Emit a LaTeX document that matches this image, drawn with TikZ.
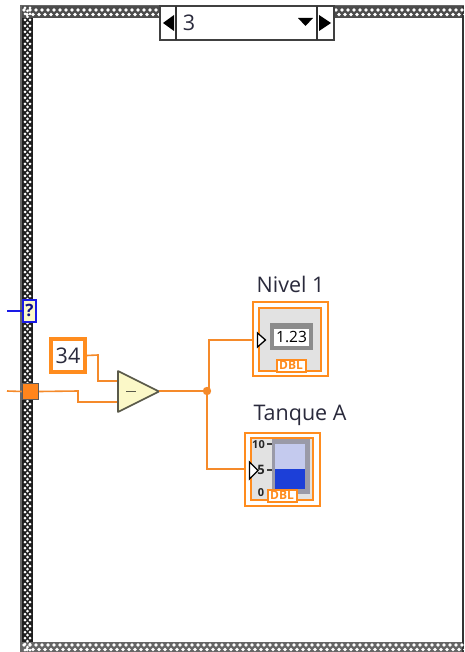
\documentclass[tikz,border=0pt]{standalone}
\usepackage{fontspec}
\setmainfont{Open Sans}
\usetikzlibrary{calc}
\definecolor{lvor}{HTML}{FF8C1E}
\definecolor{lvorw}{HTML}{F58A2A}
\definecolor{lvblue}{HTML}{1A1AE6}
\definecolor{panel}{HTML}{E2E2E2}
\definecolor{cream}{HTML}{FBF8C8}
\definecolor{edge}{HTML}{5A5A4A}
\definecolor{tankd}{HTML}{9A9AA8}
\definecolor{tankl}{HTML}{C4CAEE}
\definecolor{tankb}{HTML}{1C3FD8}
\definecolor{txt}{HTML}{2A2A3C}
\tikzset{
  x=1pt,y=-1pt,
  wire/.style={draw=lvorw,line width=1.6pt},
  bluewire/.style={draw=lvblue,line width=1.5pt},
  label/.style={inner sep=0pt,font=\fontsize{21.5}{21.5}\selectfont,text=txt},
  framedot/.style={fill=white,draw=none},
  indbox/.style={draw=lvor,line width=2pt,fill=white,inner sep=0pt,outer sep=0pt,anchor=north west},
  dbltab/.style={draw=lvor,line width=2pt,fill=white,inner sep=0pt,outer sep=0pt,anchor=north west,minimum width=29pt,minimum height=12pt,font=\bfseries\fontsize{12}{12}\selectfont,text=lvor},
  arrowtip/.style={draw=black,fill=white,line width=1.3pt},
  selbox/.style={draw=black!75,line width=1.2pt,fill=white,outer sep=0pt},
  darktri/.style={fill=black,draw=none}
}
\begin{document}
\begin{tikzpicture}
\useasboundingbox (0,0) rectangle (464,652);
\fill[white] (0,0) rectangle (464,652);
% structure frame
\fill[black!88] (21,6) rectangle (33,652);
\fill[black!70] (21,6) rectangle (464,18);
\fill[black!60] (21,642) rectangle (464,652);
\fill[black!80] (462,6) rectangle (464,652);
\foreach \y in {8,14,...,650}{
  \fill[framedot] (25,\y) circle (1.5);
  \fill[framedot] (30,\y) circle (1.5);
  \fill[framedot] (27.5,\y+3) circle (1.5);
}
\foreach \x in {24,30,...,462}{
  \fill[framedot] (\x,10) circle (1.9);
  \fill[framedot] (\x+3,14.5) circle (1.9);
  \fill[framedot] (\x,645) circle (1.9);
  \fill[framedot] (\x+3,649.5) circle (1.9);
}
\draw[black!60,line width=1.2pt] (21,5.5) -- (464,5.5);
\draw[black!60,line width=1.2pt] (21,5) -- (21,652);
\fill[white] (33,18) rectangle (462,642);
% selector
\node[selbox,minimum width=174pt,minimum height=34pt,inner sep=0pt,anchor=north west] (selector) at (160,6) {};
\draw[black!80,line width=1.2pt] (176,6) -- (176,40);
\draw[black!80,line width=1.2pt] (317,6) -- (317,40);
\fill[darktri] (163,23) -- (174,15) -- (174,31) -- cycle;
\fill[darktri] (331,23) -- (319,15) -- (319,31) -- cycle;
\fill[darktri] (298,18) -- (313,18) -- (305.5,26) -- cycle;
\node[label,anchor=center] (caseval) at (189,23) {3};
% selector terminal
\draw[draw=lvblue,line width=2pt,fill=cream] (23,299.5) rectangle (36,321.5);
\node[inner sep=0pt,font=\bfseries\fontsize{17}{17}\selectfont,text=lvblue!60!black] (sel) at (29.5,310.5) {?};
\coordinate (selin) at (22,311);
\coordinate (selfree) at (7,311);
\draw[bluewire] (selfree) -- (selin);
% tunnel
\node[draw=black!65,line width=1.3pt,fill=lvor!95!red,minimum width=16pt,minimum height=16pt,inner sep=0pt] (tunnel) at (30.5,391.5) {};
\coordinate (tunfree) at (7,391);
\draw[wire] (tunfree) -- (tunnel.west);
% constant
\node[draw=lvor,line width=4pt,fill=white,minimum width=34pt,minimum height=33pt,inner sep=0pt,font=\fontsize{21.5}{21.5}\selectfont,text=txt] (const) at (68,355.5) {34};
% subtract
\coordinate (subA) at (118,381);
\coordinate (subB) at (118,402);
\coordinate (subO) at (159,391);
\draw[wire] (const.east) -- (98,355) -- (98,381) -- (subA);
\draw[wire] (tunnel.east) -- (78,391) -- (78,402) -- (subB);
\path[draw=edge,line width=1.6pt,fill=cream,line join=round] (118,371) -- (159,391.5) -- (118,412) -- cycle;
\node[inner sep=0pt,minimum width=10pt,minimum height=1.8pt,fill=edge] (minus) at (130.5,391.5) {};
% junction
\fill[lvorw] (207,391) circle (4.2) coordinate (junc);
\coordinate (nivelin) at (253,340);
\coordinate (tanquein) at (245,469);
\draw[wire] (subO) -- (junc);
\draw[wire] (209,391) -- (209,340) -- (nivelin);
\draw[wire] (junc) -- (207,469) -- (tanquein);
% Nivel 1
\node[label,anchor=center] (nivlabel) at (290.5,284) {Nivel 1};
\node[indbox,minimum width=75pt,minimum height=74pt] (nivel) at (252.5,301.5) {};
\node[draw=lvor,line width=2pt,fill=panel,minimum width=62pt,minimum height=63pt,inner sep=0pt] (nivpanel) at (290,339) {};
\node[fill=black!45,minimum width=43pt,minimum height=27pt,inner sep=0pt] (nivdisp) at (291.5,336.5) {};
\node[fill=white,minimum width=35pt,minimum height=17pt,inner sep=0pt,font=\fontsize{15.5}{15.5}\selectfont,text=black] (nivval) at (291.5,337) {1.23};
\node[dbltab] (nivdbl) at (276.5,359.5) {DBL};
\draw[arrowtip] (257.5,333) -- (265.5,340) -- (257.5,347) -- cycle;
% Tanque A
\node[label,anchor=center] (tanlabel) at (300,415) {Tanque A};
\node[indbox,minimum width=75pt,minimum height=73pt] (tanque) at (244.5,432.5) {};
\node[draw=lvor,line width=2pt,fill=panel,minimum width=62pt,minimum height=62pt,inner sep=0pt] (tanpanel) at (281.5,469) {};
\fill[tankd] (272,439) rectangle (310,494);
\fill[tankl] (275,444) rectangle (305,469);
\fill[tankb] (275,469) rectangle (305,489);
\node[inner sep=0pt,font=\bfseries\fontsize{11}{11}\selectfont,text=black!85] (t10) at (258.5,445) {10};
\node[inner sep=0pt,font=\bfseries\fontsize{13}{13}\selectfont,text=black!85] (t5) at (261,470) {5};
\node[inner sep=0pt,font=\bfseries\fontsize{11}{11}\selectfont,text=black!85] (t0) at (261,493) {0};
\draw[black!75,line width=1.3pt] (267,444) -- (272,444) (267,470) -- (272,470);
\node[dbltab] (tandbl) at (267.5,489.5) {DBL};
\draw[arrowtip] (249.5,462) -- (258,470.5) -- (249.5,479) -- cycle;
\end{tikzpicture}
\end{document}
